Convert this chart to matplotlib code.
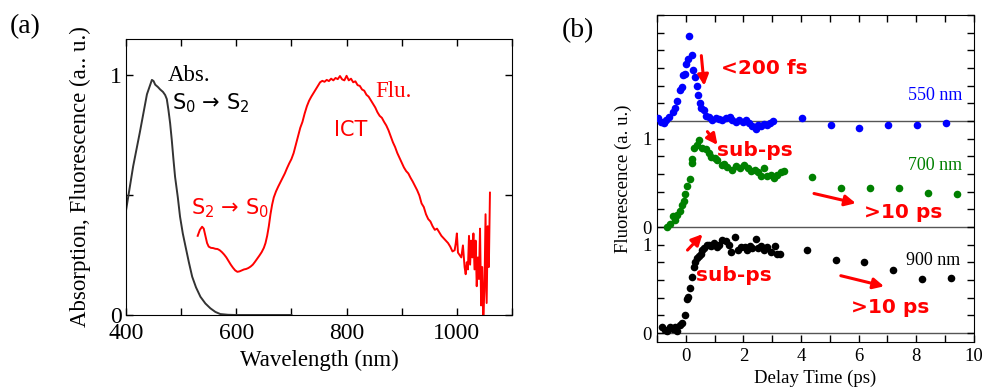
import matplotlib.pyplot as plt

plt.rcParams['font.family'] = 'serif'
plt.rcParams['font.serif'] = ['Liberation Serif', 'DejaVu Serif']
plt.rcParams['mathtext.fontset'] = 'dejavusans'

# ---- (a) absorption / fluorescence spectra ----
abs_x = [400, 413, 425, 438, 444, 447, 450, 453, 458, 462, 467, 471, 474, 477, 480,
         483, 486, 489, 494, 498, 503, 508, 514, 520, 527, 535, 544, 553, 562, 571,
         585, 600, 650, 700]
abs_y = [0.435, 0.62, 0.76, 0.92, 0.96, 0.98, 0.975, 0.96, 0.95, 0.94, 0.93, 0.917, 0.9,
         0.854, 0.80, 0.73, 0.65, 0.576, 0.49, 0.41, 0.34, 0.285, 0.22, 0.16, 0.115,
         0.076, 0.048, 0.028, 0.013, 0.004, 0.001, 0.0, 0.0, 0.0]

flu_x = [530, 534, 538, 541, 544, 547, 550, 554, 558, 562,
         566, 570, 574, 578, 582, 586, 590, 594, 598, 602,
         606, 610, 614, 618, 622, 626, 630, 634, 638, 642,
         646, 650, 653, 656, 659, 662, 665, 668, 672, 676,
         680, 684, 688, 692, 696, 700, 704, 708, 712, 716,
         720, 724, 728, 732, 736, 740, 744, 748, 752, 756,
         760, 764, 768, 772, 776, 780, 784, 788, 792, 796,
         800, 804, 808, 812, 816, 820, 824, 828, 832, 836,
         840, 844, 848, 852, 856, 860, 864, 868, 872, 876,
         880, 884, 888, 892, 896, 900, 904, 908, 912, 916,
         920, 924, 928, 932, 936, 940, 944, 948, 952, 956,
         960, 964, 968, 972, 976, 980, 984, 988, 992, 996,
         998, 1000, 1002, 1005, 1008, 1011, 1014, 1016, 1018, 1020,
         1022, 1024, 1026, 1028, 1030, 1032, 1034, 1036, 1038, 1040,
         1042, 1044, 1046, 1048, 1050, 1052, 1054, 1056, 1058, 1060]
flu_y = [0.33, 0.355, 0.368, 0.36, 0.33, 0.30, 0.285, 0.28, 0.279, 0.276,
         0.275, 0.27, 0.262, 0.252, 0.24, 0.225, 0.21, 0.197, 0.186, 0.18,
         0.182, 0.186, 0.19, 0.192, 0.196, 0.202, 0.21, 0.222, 0.235, 0.248,
         0.262, 0.28, 0.30, 0.33, 0.37, 0.42, 0.46, 0.49, 0.515, 0.535,
         0.553, 0.57, 0.59, 0.612, 0.632, 0.65, 0.675, 0.71, 0.745, 0.78,
         0.805, 0.84, 0.87, 0.893, 0.91, 0.925, 0.94, 0.955, 0.97, 0.976,
         0.972, 0.98, 0.975, 0.985, 0.978, 0.988, 0.983, 0.996, 0.982, 0.978,
         0.997, 0.978, 0.985, 0.97, 0.974, 0.958, 0.955, 0.94, 0.935, 0.918,
         0.91, 0.895, 0.88, 0.865, 0.845, 0.83, 0.822, 0.805, 0.79, 0.77,
         0.745, 0.72, 0.70, 0.675, 0.655, 0.635, 0.615, 0.60, 0.59, 0.572,
         0.556, 0.538, 0.52, 0.498, 0.465, 0.45, 0.42, 0.40, 0.39, 0.37,
         0.355, 0.36, 0.345, 0.33, 0.32, 0.31, 0.30, 0.285, 0.265, 0.27,
         0.30, 0.34, 0.26, 0.25, 0.24, 0.29, 0.20, 0.17, 0.22, 0.19,
         0.33, 0.21, 0.31, 0.24, 0.34, 0.19, 0.31, 0.12, 0.24, 0.15,
         0.36, 0.04, 0.20, 0.0, 0.10, 0.42, 0.05, 0.37, 0.20, 0.51]

# ---- (b) fluorescence decays (offset traces) ----
off_900, off_700, off_550 = 0.0, 1.2, 2.4

t550 = [-0.98, -0.87, -0.77, -0.69, -0.58, -0.46, -0.38, -0.29, -0.20, -0.14,
        -0.09, -0.03, 0.0, 0.06, 0.12, 0.21, 0.25, 0.32, 0.38, 0.43,
        0.49, 0.54, 0.64, 0.69, 0.81, 0.92, 1.04, 1.16, 1.27, 1.39,
        1.53, 1.62, 1.73, 1.85, 1.97, 2.08, 2.20, 2.31, 2.43, 2.51,
        2.60, 2.72, 2.83, 2.92, 3.01, 4.03, 5.03, 6.02, 7.03, 8.02,
        9.03]
f550 = [0.04, -0.01, -0.02, 0.01, 0.05, 0.10, 0.15, 0.23, 0.35, 0.38,
        0.52, 0.53, 0.65, 0.70, 0.96, 0.75, 0.58, 0.50, 0.40, 0.30,
        0.20, 0.15, 0.13, 0.06, 0.05, 0.01, 0.03, 0.02, 0.015, 0.03,
        0.045, 0.01, -0.01, 0.01, -0.01, 0.015, -0.02, -0.06, -0.09, -0.05,
        -0.06, -0.03, -0.04, -0.02, 0.0, 0.03, -0.04, -0.075, -0.04, -0.04,
        -0.02]

t700 = [-0.64, -0.54, -0.46, -0.38, -0.29, -0.20, -0.12, -0.06, -0.02, 0.03,
        0.15, 0.20, 0.23, 0.29, 0.38, 0.46, 0.58, 0.69, 0.81, 0.89,
        1.01, 1.10, 1.24, 1.33, 1.42, 1.62, 1.73, 1.88, 2.02, 2.16,
        2.25, 2.39, 2.51, 2.60, 2.72, 2.83, 2.95, 3.06, 3.16, 3.29,
        3.41, 4.39, 5.40, 6.40, 7.40, 8.40, 9.40]
f700 = [0.0, 0.04, 0.12, 0.075, 0.14, 0.18, 0.245, 0.30, 0.376, 0.46,
        0.545, 0.73, 0.77, 0.89, 0.93, 0.98, 0.90, 0.88, 0.84, 0.79,
        0.78, 0.76, 0.70, 0.715, 0.68, 0.65, 0.69, 0.67, 0.70, 0.67,
        0.64, 0.65, 0.62, 0.575, 0.67, 0.58, 0.59, 0.56, 0.585, 0.62,
        0.64, 0.57, 0.44, 0.44, 0.44, 0.39, 0.37]

t900 = [-0.81, -0.73, -0.64, -0.54, -0.46, -0.38, -0.29, -0.20, -0.12, -0.03,
        0.03, 0.08, 0.15, 0.20, 0.27, 0.32, 0.38, 0.46, 0.52, 0.58,
        0.64, 0.73, 0.81, 0.89, 0.98, 1.08, 1.16, 1.27, 1.39, 1.50,
        1.56, 1.70, 1.82, 1.93, 2.05, 2.14, 2.23, 2.31, 2.42, 2.51,
        2.62, 2.72, 2.83, 2.95, 3.09, 3.16, 3.27, 4.20, 5.20, 6.20,
        7.20, 8.20, 9.20]
f900 = [0.075, 0.04, 0.02, 0.075, 0.05, 0.075, 0.03, 0.095, 0.11, 0.21,
        0.39, 0.41, 0.51, 0.64, 0.75, 0.81, 0.85, 0.87, 0.90, 0.94,
        0.96, 1.00, 1.00, 0.99, 1.02, 0.97, 1.00, 1.05, 1.04, 1.00,
        0.92, 1.09, 0.94, 0.97, 0.98, 0.94, 0.99, 0.96, 1.06, 0.96,
        0.99, 0.94, 0.98, 0.92, 0.99, 0.90, 0.90, 0.94, 0.83, 0.81,
        0.72, 0.61, 0.62]

fig = plt.figure(figsize=(9.82, 3.87), dpi=100)

# panel (a)
ax1 = fig.add_axes([0.1283, 0.186, 0.3931, 0.713])
ax1.plot(abs_x, abs_y, color='#333333', lw=1.4)
ax1.plot(flu_x, flu_y, color='red', lw=1.4)
ax1.set_xlim(400, 1100)
ax1.set_ylim(0, 1.15)
ax1.set_xticks([400, 600, 800, 1000])
ax1.set_xticks([500, 700, 900, 1100], minor=True)
ax1.set_yticks([0, 1])
ax1.set_yticklabels(['0', '1'])
ax1.set_yticks([0.5], minor=True)
ax1.tick_params(which='both', direction='in', top=True, right=True, length=5,
                width=1, labelsize=17, pad=3)
ax1.tick_params(axis='x', pad=6)
ax1.set_xlabel('Wavelength (nm)', fontsize=16.5, labelpad=4)
ax1.set_ylabel('Absorption, Fluorescence (a.. u.)', fontsize=16.5, labelpad=14)

ax1.text(476, 0.975, 'Abs.', fontsize=16.5, color='black')
ax1.text(484, 0.858, r'S$_0$ → S$_2$', fontsize=15, color='black', family='DejaVu Sans')
ax1.text(517, 0.42, r'S$_2$ → S$_0$', fontsize=15, color='red', family='DejaVu Sans')
ax1.text(852, 0.91, 'Flu.', fontsize=16.5, color='red')
ax1.text(777, 0.746, 'ICT', fontsize=15, color='red', family='DejaVu Sans')

# panel (b)
ax2 = fig.add_axes([0.669, 0.1163, 0.3228, 0.845])
for off in (off_900, off_700, off_550):
    ax2.axhline(off, color='#555555', lw=1.0, zorder=1)
ax2.scatter(t550, [v + off_550 for v in f550], s=30, color='#0000ff', lw=0, zorder=3)
ax2.scatter(t700, [v + off_700 for v in f700], s=30, color='#008000', lw=0, zorder=3)
ax2.scatter(t900, [v + off_900 for v in f900], s=30, color='black', lw=0, zorder=3)
ax2.set_xlim(-1, 10)
ax2.set_ylim(-0.1, 3.6)
ax2.set_xticks([0, 2, 4, 6, 8, 10])
ax2.set_xticks([-1, 1, 3, 5, 7, 9], minor=True)
yt = [round(0.2 * i, 1) for i in range(19)]
ax2.set_yticks(yt)
lab = {0.0: '0', 1.0: '1', 1.2: '0', 2.2: '1'}
ax2.set_yticklabels([lab.get(v, '') for v in yt])
ax2.tick_params(which='both', direction='in', top=True, right=True, length=5,
                width=1, labelsize=13.5, pad=4)
ax2.set_xlabel('Delay Time (ps)', fontsize=13.5, labelpad=4)
ax2.set_ylabel('Fluorescence (a. u.)', fontsize=13.5, labelpad=7)

ax2.text(9.6, 2.64, '550 nm', fontsize=13, color='#0000ff', ha='right')
ax2.text(9.6, 1.85, '700 nm', fontsize=13, color='#008000', ha='right')
ax2.text(9.52, 0.77, '900 nm', fontsize=13, color='black', ha='right')

bold = dict(fontsize=14.5, color='red', fontweight='bold', family='DejaVu Sans')
ax2.text(1.21, 2.93, '<200 fs', **bold)
ax2.text(1.10, 2.01, 'sub-ps', **bold)
ax2.text(6.19, 1.30, '>10 ps', **bold)
ax2.text(0.35, 0.594, 'sub-ps', **bold)
ax2.text(5.72, 0.226, '>10 ps', **bold)

arrows = [((0.54, 3.14), (0.64, 2.80)),
          ((0.75, 2.28), (1.10, 2.13)),
          ((4.45, 1.58), (5.90, 1.47)),
          ((0.06, 0.94), (0.58, 1.12)),
          ((5.38, 0.65), (6.88, 0.53))]
for start, tip in arrows:
    ax2.annotate('', xy=tip, xytext=start,
                 arrowprops=dict(arrowstyle='-|>', color='red', lw=2.2,
                                 mutation_scale=16, shrinkA=0, shrinkB=0))

fig.text(10 / 982, 1 - 33 / 387, '(a)', fontsize=20)
fig.text(562 / 982, 1 - 37 / 387, '(b)', fontsize=20)

fig.savefig('out.png', dpi=100)
